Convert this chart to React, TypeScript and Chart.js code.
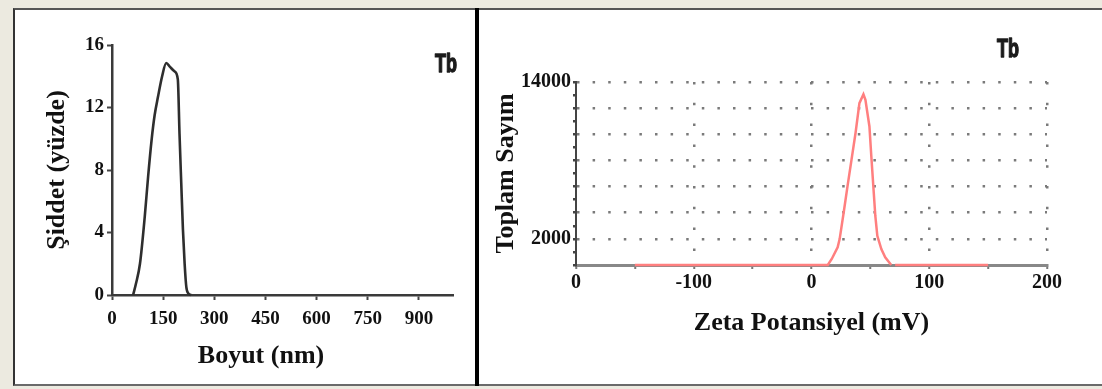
import React, { useEffect, useRef } from "react";
import { Chart, registerables } from "chart.js";

Chart.register(...registerables);

// ---- Left panel: size distribution ----
const sizeNm = [62, 70, 82, 96, 106, 116, 125, 135, 147, 159, 170, 184, 193, 198, 203, 208, 213, 218, 224, 232];
const intensityPct = [0, 0.7, 2.0, 5.0, 7.6, 9.9, 11.5, 12.7, 14.0, 14.85, 14.6, 14.3, 13.8, 10.3, 7.2, 4.2, 2.0, 0.5, 0.1, 0];
const sizeTicks = [0, 150, 300, 450, 600, 750, 900];
const intensityTicks = [0, 4, 8, 12, 16];

// ---- Right panel: zeta potential ----
const zetaMv = [-150, 13.8, 17.2, 22.2, 23.9, 27.3, 30.6, 34.0, 37.4, 40.7, 44.1, 45.8, 49.2, 50.8, 52.5, 54.2, 55.9, 59.3, 62.6, 67.7, 69.4, 71.0, 150];
const zetaCounts = [0, 0, 460, 1350, 1980, 4000, 6030, 8060, 10100, 12380, 13060, 12630, 10600, 8320, 6030, 3750, 2230, 1220, 590, 0, null, 0, 0];
const zetaTickValues = [-200, -150, -100, -50, 0, 50, 100, 150, 200];
const zetaTickLabels = ["0", "", "-100", "", "0", "", "100", "", "200"];
const countTickValues = [0, 1000, 2000, 3000, 4000, 5000, 6000, 7000, 8000, 9000, 10000, 11000, 12000, 13000, 14000];
const countTickLabels = ["", "", "2000", "", "", "", "", "", "", "", "", "", "", "", "14000"];

const SERIF = "'Liberation Serif', 'Times New Roman', serif";
const SANS = "'Liberation Sans', Arial, sans-serif";

const textPlugin = {
  id: "panelText",
  afterDraw(chart: any, _args: any, opts: any) {
    const ctx = chart.ctx;
    (opts.items || []).forEach((it: any) => {
      ctx.save();
      ctx.translate(it.x, it.y);
      ctx.scale(it.scaleX ?? 1, 1);
      ctx.font = it.font;
      ctx.fillStyle = it.color || "#111";
      ctx.textAlign = it.align || "center";
      ctx.textBaseline = "alphabetic";
      ctx.fillText(it.text, 0, 0);
      if (it.stroke) {
        ctx.strokeStyle = it.color || "#111";
        ctx.lineWidth = it.stroke;
        ctx.lineJoin = "round";
        ctx.strokeText(it.text, 0, 0);
      }
      ctx.restore();
    });
  },
};

export default function App() {
  const leftRef = useRef<HTMLCanvasElement | null>(null);
  const rightRef = useRef<HTMLCanvasElement | null>(null);

  useEffect(() => {
    const left = new Chart(leftRef.current as HTMLCanvasElement, {
      type: "line",
      data: {
        datasets: [
          {
            data: sizeNm.map((x, i) => ({ x, y: intensityPct[i] })),
            borderColor: "#2e2e2e",
            borderWidth: 2.6,
            pointRadius: 0,
            cubicInterpolationMode: "monotone",
            fill: false,
            clip: false,
          } as any,
        ],
      },
      plugins: [textPlugin as any],
      options: {
        responsive: false,
        animation: false,
        layout: { padding: { top: 35, right: 21, left: 0, bottom: 0 } },
        plugins: {
          legend: { display: false },
          tooltip: { enabled: false },
          panelText: {
            items: [
              { text: "Boyut (nm)", x: 247, y: 353, font: `bold 26px ${SERIF}`, align: "center" },
              { text: "Tb", x: 421, y: 62, font: `bold 25px ${SANS}`, align: "left", scaleX: 0.72, stroke: 1.4, color: "#1a1a1a" },
            ],
          },
        } as any,
        scales: {
          x: {
            type: "linear",
            min: 0,
            max: 1000,
            afterBuildTicks: (s: any) => {
              s.ticks = sizeTicks.map((v) => ({ value: v }));
            },
            afterFit: (s: any) => {
              s.height = 89;
            },
            grid: { drawOnChartArea: false, drawTicks: true, tickLength: 5, tickColor: "#444", tickWidth: 2 },
            border: { color: "#3a3a3a", width: 2.5 },
            ticks: {
              color: "#111",
              font: { family: SERIF, size: 19, weight: "bold" },
              padding: 8,
              maxRotation: 0,
              autoSkip: false,
            },
          },
          y: {
            type: "linear",
            min: 0,
            max: 16,
            afterBuildTicks: (s: any) => {
              s.ticks = intensityTicks.map((v) => ({ value: v }));
            },
            afterFit: (s: any) => {
              s.width = 98;
            },
            grid: { drawOnChartArea: false, drawTicks: true, tickLength: 5, tickColor: "#444", tickWidth: 2 },
            border: { color: "#3a3a3a", width: 2.5 },
            ticks: {
              color: "#111",
              font: { family: SERIF, size: 19, weight: "bold" },
              padding: 3,
            },
            title: {
              display: true,
              text: "Şiddet (yüzde)",
              color: "#111",
              font: { family: SERIF, size: 26, weight: "bold" },
              padding: { top: 28, bottom: 0 },
            },
          },
        },
      } as any,
    });

    const right = new Chart(rightRef.current as HTMLCanvasElement, {
      type: "line",
      data: {
        datasets: [
          {
            data: zetaMv.map((x, i) => ({ x, y: zetaCounts[i] })),
            borderColor: "#ff7f7f",
            borderWidth: 2.5,
            pointRadius: 0,
            tension: 0,
            spanGaps: false,
            fill: false,
            clip: false,
          } as any,
        ],
      },
      plugins: [textPlugin as any],
      options: {
        responsive: false,
        animation: false,
        layout: { padding: { top: 72, right: 55, left: 0, bottom: 0 } },
        plugins: {
          legend: { display: false },
          tooltip: { enabled: false },
          panelText: {
            items: [{ text: "Tb", x: 517, y: 47, font: `bold 25px ${SANS}`, align: "left", scaleX: 0.72, stroke: 1.4, color: "#1a1a1a" }],
          },
        } as any,
        scales: {
          x: {
            type: "linear",
            min: -200,
            max: 200,
            afterBuildTicks: (s: any) => {
              s.ticks = zetaTickValues.map((v) => ({ value: v }));
            },
            afterFit: (s: any) => {
              s.height = 119;
            },
            grid: {
              drawOnChartArea: true,
              drawTicks: true,
              tickLength: 4,
              tickWidth: 2,
              tickColor: "#777",
              lineWidth: 2.5,
              color: (c: any) => {
                const v = c.tick ? c.tick.value : null;
                return v !== null && v !== -200 && v % 100 === 0 ? "#7a7a7a" : "rgba(0,0,0,0)";
              },
            },
            border: { color: "#888", width: 3, dash: [2.5, 18.3] },
            ticks: {
              color: "#111",
              font: { family: SERIF, size: 20, weight: "bold" },
              padding: 2,
              maxRotation: 0,
              autoSkip: false,
              callback: (v: any) => {
                const i = zetaTickValues.indexOf(Number(v));
                return i >= 0 ? zetaTickLabels[i] : "";
              },
            },
            title: {
              display: true,
              text: "Zeta Potansiyel (mV)",
              color: "#111",
              font: { family: SERIF, size: 26, weight: "bold" },
              padding: { top: 0, bottom: 45 },
            },
          },
          y: {
            type: "linear",
            min: 0,
            max: 14000,
            afterBuildTicks: (s: any) => {
              s.ticks = countTickValues.map((v) => ({ value: v }));
            },
            afterFit: (s: any) => {
              s.width = 96;
            },
            grid: {
              drawOnChartArea: true,
              drawTicks: true,
              tickLength: 3,
              tickWidth: 2.5,
              tickColor: "#444",
              lineWidth: 2.5,
              color: (c: any) => {
                const v = c.tick ? c.tick.value : null;
                return v !== null && v !== 0 && v % 2000 === 0 ? "#7a7a7a" : "rgba(0,0,0,0)";
              },
            },
            border: { color: "#444", width: 2, dash: [2.5, 13.1] },
            ticks: {
              color: "#111",
              font: { family: SERIF, size: 20, weight: "bold" },
              padding: 2,
              autoSkip: false,
              callback: (v: any) => {
                const i = countTickValues.indexOf(Number(v));
                return i >= 0 ? countTickLabels[i] : "";
              },
            },
            title: {
              display: true,
              text: "Toplam Sayım",
              color: "#111",
              font: { family: SERIF, size: 26, weight: "bold" },
              padding: { top: 11, bottom: 0 },
            },
          },
        },
      } as any,
    });

    return () => {
      left.destroy();
      right.destroy();
    };
  }, []);

  return (
    <div
      style={{
        position: "fixed",
        left: 0,
        top: 0,
        width: 1102,
        height: 389,
        background: "#ECEAE0",
        overflow: "hidden",
      }}
    >
      <div
        style={{
          position: "absolute",
          left: 13,
          top: 8,
          width: 1089,
          height: 378,
          background: "#fff",
          borderTop: "2px solid #555",
          borderLeft: "2px solid #333",
          borderBottom: "2px solid #6a6a6a",
          boxSizing: "border-box",
        }}
      />
      <div style={{ position: "absolute", left: 475, top: 8, width: 4, height: 378, background: "#000" }} />
      <canvas
        ref={leftRef}
        width={460}
        height={374}
        style={{ position: "absolute", left: 14, top: 10, width: 460, height: 374 }}
      />
      <canvas
        ref={rightRef}
        width={622}
        height={374}
        style={{ position: "absolute", left: 480, top: 10, width: 622, height: 374 }}
      />
    </div>
  );
}
